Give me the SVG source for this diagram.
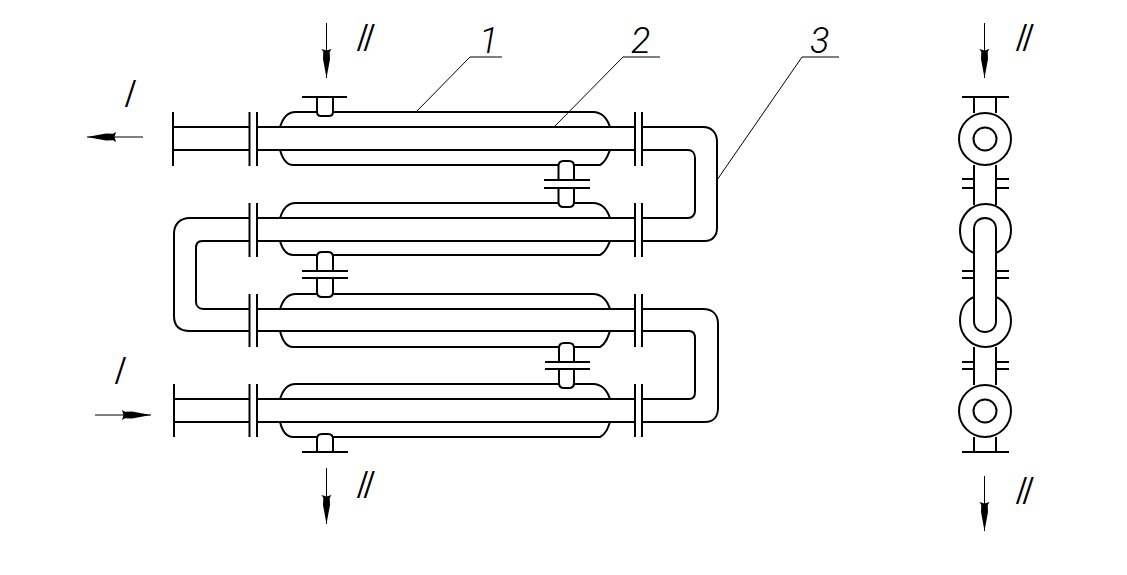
<svg xmlns="http://www.w3.org/2000/svg" width="1127" height="575" viewBox="0 0 1127 575">
<style>
.l{fill:none;stroke:#000;stroke-width:2}
.t{fill:none;stroke:#000;stroke-width:1}
.n{font-family:"Roboto","Liberation Sans",sans-serif;font-weight:300;font-size:36px;fill:#000;font-style:italic}
.r{font-family:"Roboto","Liberation Sans",sans-serif;font-weight:300;font-size:38px;fill:#000;letter-spacing:-3.500px}
</style>
<defs>
<marker id="a" markerUnits="userSpaceOnUse" markerWidth="30" markerHeight="12" refX="29" refY="6" orient="auto">
<path d="M0 1L3 2.800L10 2.500L29 6L10 9.500L3 9.200L0 11L1.500 6Z" fill="#000"/>
</marker>
</defs>
<rect width="1127" height="575" fill="#fff"/>
<g id="inlet-stub-top"><path class="l" d="M173 112V166M173 127H249M173 150H249M249.500 112V166M257 112V166"/></g>
<g id="inlet-stub-bottom"><path class="l" d="M174 384V437M174 399H249M174 422H249M249.500 384V437M257 384V437"/></g>
<g id="tube-1"><path class="l" d="M257 127H635M257 150H635M635 112V166M642 112V166"/></g>
<g id="tube-2"><path class="l" d="M249.500 203V257M257 203V257M257 218H635M257 241H635M635 203V257M642 203V257"/></g>
<g id="tube-3"><path class="l" d="M249.500 294V347M257 294V347M257 309H635M257 331H635M635 294V347M642 294V347"/></g>
<g id="tube-4"><path class="l" d="M257 399H635M257 422H635M635 384V437M642 384V437"/></g>
<g id="shell-1"><path class="l" d="M280 127C283 118 287 112 296 112H317M333 112H593C601 112 607 118 610 127M280 150C282 157 285 165 293 165H558M574 165H600C606 162 608 155 610 150"/></g>
<g id="shell-2"><path class="l" d="M280 218C283 209 287 203 296 203H558M574 203H593C601 203 607 209 610 218M280 241C282 248 285 255 293 255H317M333 255H600C606 252 608 246 610 241"/></g>
<g id="shell-3"><path class="l" d="M280 309C283 300 287 294 296 294H317M333 294H593C601 294 607 300 610 309M280 331C282 339 285 347 293 347H559M574 347H600C606 344 608 337 610 331"/></g>
<g id="shell-4"><path class="l" d="M280 399C283 390 287 384 296 384H559M574 384H593C601 384 607 390 610 399M280 422C282 430 285 437 293 437H317M333 437H600C606 434 608 428 610 422"/></g>
<g id="return-right-top"><path class="l" d="M642 127H703C712 127 717 133 717 142V228C717 236 712 241 705 241H642M642 150H688C692 150 695 153 695 158V211C695 215 692 218 688 218H642"/></g>
<g id="return-left"><path class="l" d="M249 218H190C180 218 174 224 174 234V316C174 326 180 331 190 331H249M249 241H202C198 241 196 244 196 248V302C196 306 199 309 204 309H249"/></g>
<g id="return-right-bottom"><path class="l" d="M642 309H703C713 309 718 315 718 324V408C718 417 713 422 705 422H642M642 331H689C693 331 695 334 695 338V392C695 396 693 399 689 399H642"/></g>
<g id="nozzle-top"><path class="l" d="M302 97H347M317 97V112Q317 116 321 116H329Q333 116 333 112V97"/></g>
<g id="nozzle-bottom"><path class="l" d="M302 452H348M317 452V439Q317 434 322 434H328Q333 434 333 439V452"/></g>
<g id="jumper-1"><path class="l" d="M558.500 180V166Q558.500 161 563.500 161H569Q574 161 574 166V180M558.500 188V202Q558.500 207 563.500 207H569Q574 207 574 202V188M544 180H590M544 188H590"/></g>
<g id="jumper-2"><path class="l" d="M317 271V257Q317 252 322 252H328Q333 252 333 257V271M317 278V292Q317 297 322 297H328Q333 297 333 292V278M302 271H348M302 278H348"/></g>
<g id="jumper-3"><path class="l" d="M559 362V348Q559 343 564 343H569Q574 343 574 348V362M559 369V383Q559 388 564 388H569Q574 388 574 383V369M545 362H590M545 369H590"/></g>
<g id="side-view">
<path class="l" d="M962 97H1009M974 97V113M996 97V113M974 165V205M996 165V205M962 179H974M962 188H974M996 179H1009M996 188H1009"/>
<circle class="l" cx="985" cy="139" r="26"/><circle class="l" cx="985" cy="139" r="11.500"/>
<path class="l" d="M974 253C964 249 960 240 960 230C960 216 971 204 985.500 204C1000 204 1011 216 1011 230C1011 240 1006 249 996 253"/>
<path class="l" d="M974 229C974 222 979 218 985 218C991 218 996 222 996 229V321C996 328 991 332 985 332C979 332 974 328 974 321Z"/>
<path class="l" d="M974 297C964 301 960 311 960 321C960 335 971 347 985.500 347C1000 347 1011 335 1011 321C1011 311 1006 301 996 297"/>
<path class="l" d="M962 271H974M962 278H974M996 271H1009M996 278H1009M962 362H974M962 369H974M996 362H1009M996 369H1009M974 347V385M996 347V385M974 437V452M996 437V452M962 452H1009"/>
<circle class="l" cx="985" cy="411" r="26"/><circle class="l" cx="985" cy="411" r="11.500"/>
</g>
<g id="connectors">
<path class="t" d="M502 57H470L416 112M660 57H623L554 127M839 57H802L717 180"/>
<path class="t" marker-end="url(#a)" d="M143 137H87"/>
<path class="t" marker-end="url(#a)" d="M95 415H151"/>
<path class="t" marker-end="url(#a)" d="M326.500 23V78"/>
<path class="t" marker-end="url(#a)" d="M326.500 468V524"/>
<path class="t" marker-end="url(#a)" d="M984.500 23V78"/>
<path class="t" marker-end="url(#a)" d="M984.500 476V531"/>
</g>
<g id="labels">
<text class="n" x="479" y="53">1</text>
<text class="n" x="631" y="53">2</text>
<text class="n" x="810" y="53">3</text>
<text class="r" transform="translate(121 107) skewX(-18)">I</text>
<text class="r" transform="translate(111 384) skewX(-18)">I</text>
<text class="r" transform="translate(353 51) skewX(-18)">II</text>
<text class="r" transform="translate(353 498) skewX(-18)">II</text>
<text class="r" transform="translate(1012 51) skewX(-18)">II</text>
<text class="r" transform="translate(1012 504) skewX(-18)">II</text>
</g>
</svg>
